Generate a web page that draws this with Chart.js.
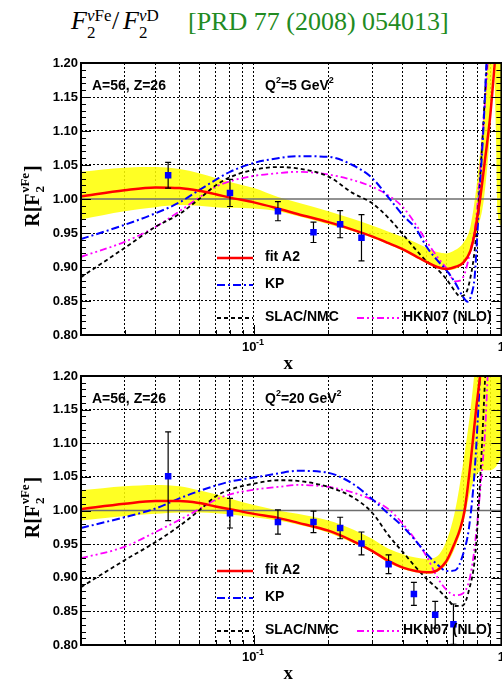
<!DOCTYPE html>
<html>
<head>
<meta charset="utf-8">
<script src="https://cdn.jsdelivr.net/npm/chart.js@4.4.1/dist/chart.umd.min.js"></script>
<style>
html,body{margin:0;padding:0;background:#fff;width:502px;height:681px;overflow:hidden;position:relative}
canvas{position:absolute;left:0}
#c1{top:40px}
#c2{top:353px}
.t{position:absolute;white-space:nowrap;font-family:'Liberation Serif','DejaVu Serif',serif;line-height:1;color:#000}
.big{font-size:26px}
.sm{font-size:17px}
.i{font-style:italic}
.ref{color:#228b22;font-size:26px}
</style>
</head>
<body>
<span class="t big i" style="left:71px;top:8px">F</span>
<span class="t sm" style="left:87px;top:7px"><i>ν</i>Fe</span>
<span class="t sm" style="left:87px;top:24px">2</span>
<span class="t big" style="left:112px;top:8px">/</span>
<span class="t big i" style="left:123px;top:8px">F</span>
<span class="t sm" style="left:139px;top:7px"><i>ν</i>D</span>
<span class="t sm" style="left:139px;top:24px">2</span>
<span class="t ref" style="left:188px;top:9px">[PRD 77 (2008) 054013]</span>
<canvas id="c1" width="506" height="340"></canvas>
<canvas id="c2" width="506" height="337"></canvas>
<script>
// ===== axes =====
const XGRID=[0.02,0.03,0.04,0.05,0.06,0.07,0.08,0.09,0.1,0.2,0.3,0.4,0.5,0.6,0.7,0.8,0.9,1];
const XMAJOR=[0.1,1];

// ===== Q2 = 5 GeV2 (top) =====
const DX5=[0.045,0.080,0.125,0.174,0.223,0.272];
const DY5=[1.035,1.009,0.982,0.951,0.963,0.943];
const DE5=[0.019,0.020,0.014,0.015,0.020,0.034];
const FITX5=[0.02,0.03,0.04,0.05,0.06,0.07,0.08,0.1,0.125,0.15,0.2,0.25,0.3,0.35,0.4,0.45,0.5,0.55,0.6,0.65,0.7,0.75,0.78,0.8,0.82,0.86,0.9,0.94,0.98];
const FITY5=[1.004,1.013,1.017,1.016,1.012,1.007,1.002,0.995,0.986,0.978,0.966,0.955,0.945,0.935,0.926,0.916,0.907,0.900,0.897,0.900,0.906,0.924,0.950,0.975,1.0,1.06,1.12,1.2,1.28];
const BANDX5=[0.02,0.03,0.04,0.05,0.06,0.07,0.08,0.1,0.125,0.15,0.2,0.25,0.3,0.35,0.4,0.45,0.5,0.55,0.6,0.65,0.7,0.75,0.8,0.85,0.9,0.93,0.95,0.965,1.0];
const BANDHI5=[1.040,1.046,1.047,1.044,1.038,1.031,1.025,1.016,1.003,0.995,0.982,0.971,0.961,0.952,0.944,0.936,0.928,0.922,0.920,0.925,0.935,0.960,1.03,1.13,1.25,1.32,1.36,1.40,1.45];
const BANDLO5=[0.970,0.982,0.988,0.991,0.990,0.988,0.987,0.986,0.982,0.975,0.963,0.953,0.943,0.933,0.924,0.914,0.905,0.898,0.895,0.897,0.904,0.920,0.955,1.0,1.1,1.2,1.1,0.98,0.96];
const KPX5=[0.02,0.03,0.04,0.05,0.06,0.07,0.08,0.1,0.125,0.15,0.2,0.25,0.3,0.35,0.4,0.45,0.5,0.55,0.6,0.65,0.7,0.73,0.76,0.78,0.8,0.82,0.845,0.87,0.9];
const KPY5=[0.941,0.962,0.979,0.995,1.013,1.028,1.040,1.053,1.060,1.063,1.062,1.050,1.031,1.002,0.976,0.957,0.929,0.910,0.895,0.877,0.856,0.849,0.862,0.886,0.950,1.02,1.10,1.20,1.32];
const SLACX5=[0.02,0.03,0.04,0.05,0.06,0.07,0.08,0.1,0.125,0.15,0.2,0.25,0.3,0.35,0.4,0.45,0.5,0.55,0.6,0.65,0.68,0.72,0.75,0.78,0.8,0.83,0.86,0.89];
const SLACY5=[0.885,0.928,0.959,0.978,1.0,1.020,1.032,1.043,1.047,1.045,1.033,1.009,0.994,0.972,0.948,0.926,0.908,0.897,0.882,0.864,0.857,0.862,0.885,0.925,0.970,1.06,1.16,1.25];
const HKNX5=[0.02,0.03,0.04,0.05,0.06,0.07,0.08,0.1,0.125,0.15,0.2,0.25,0.3,0.35,0.4,0.45,0.5,0.55,0.6,0.65,0.68,0.71,0.75,0.79,0.82,0.85,0.88,0.91];
const HKNY5=[0.915,0.937,0.959,0.982,1.002,1.018,1.026,1.034,1.038,1.040,1.036,1.028,1.018,1.005,0.988,0.963,0.937,0.915,0.898,0.879,0.880,0.890,0.925,0.970,1.04,1.12,1.20,1.30];

// ===== Q2 = 20 GeV2 (bottom) =====
const DX20=[0.045,0.080,0.125,0.174,0.223,0.272,0.35,0.443,0.54,0.64];
const DY20=[1.051,0.996,0.983,0.983,0.974,0.951,0.920,0.876,0.845,0.831];
const DE20=[0.066,0.022,0.018,0.016,0.016,0.017,0.014,0.017,0.020,0.030];
const FITX20=[0.02,0.03,0.04,0.05,0.06,0.07,0.08,0.1,0.125,0.15,0.2,0.25,0.3,0.35,0.4,0.45,0.5,0.55,0.6,0.65,0.68,0.71,0.75,0.79,0.82,0.86];
const FITY20=[1.002,1.010,1.014,1.014,1.011,1.006,1.002,0.995,0.989,0.982,0.970,0.955,0.940,0.925,0.915,0.910,0.908,0.911,0.925,0.953,0.972,1.0,1.07,1.15,1.2,1.28];
const BANDX20=[0.02,0.03,0.04,0.05,0.06,0.07,0.08,0.1,0.125,0.15,0.2,0.25,0.3,0.35,0.4,0.45,0.5,0.55,0.6,0.65,0.7,0.75,0.8,0.85,0.9,0.95,1.0];
const BANDHI20=[1.030,1.036,1.038,1.036,1.030,1.024,1.018,1.008,1.000,0.995,0.985,0.972,0.958,0.943,0.935,0.930,0.928,0.932,0.955,1.0,1.07,1.15,1.25,1.35,1.45,1.55,1.65];
const BANDLO20=[0.985,0.992,0.995,0.997,0.997,0.996,0.994,0.990,0.985,0.979,0.967,0.952,0.938,0.922,0.913,0.908,0.906,0.909,0.920,0.945,0.980,1.03,1.055,1.06,1.06,1.065,1.08];
const KPX20=[0.02,0.03,0.04,0.05,0.06,0.07,0.08,0.1,0.125,0.15,0.2,0.25,0.3,0.35,0.4,0.45,0.5,0.55,0.6,0.65,0.7,0.74,0.78,0.82,0.86];
const KPY20=[0.974,0.990,1.003,1.018,1.029,1.037,1.043,1.049,1.055,1.059,1.056,1.040,1.017,0.995,0.976,0.955,0.935,0.920,0.910,0.911,0.935,0.975,1.06,1.2,1.35];
const SLACX20=[0.02,0.03,0.04,0.05,0.06,0.07,0.08,0.1,0.125,0.15,0.2,0.25,0.3,0.35,0.4,0.45,0.5,0.55,0.6,0.65,0.7,0.74,0.78,0.8,0.83,0.86];
const SLACY20=[0.886,0.926,0.953,0.977,1.0,1.021,1.031,1.040,1.045,1.044,1.035,1.020,0.997,0.963,0.938,0.916,0.898,0.884,0.870,0.858,0.859,0.882,0.926,0.976,1.08,1.2];
const HKNX20=[0.02,0.03,0.04,0.05,0.06,0.07,0.08,0.1,0.125,0.15,0.2,0.25,0.3,0.35,0.4,0.45,0.5,0.55,0.6,0.65,0.7,0.74,0.77,0.8,0.83,0.86,0.88,0.91];
const HKNY20=[0.929,0.946,0.968,0.986,1.002,1.016,1.024,1.031,1.035,1.038,1.035,1.027,1.016,1.002,0.980,0.956,0.931,0.901,0.882,0.874,0.877,0.895,0.930,0.985,1.05,1.12,1.20,1.30];

const ONE_X=[0.02,1], ONE_Y=[1,1];

const SANS="'Liberation Sans', Arial, Helvetica, sans-serif";
const SERIF="'Liberation Serif', 'DejaVu Serif', serif";
Chart.defaults.font.family=SANS;

const pts=(xs,ys)=>xs.map((x,i)=>({x,y:ys[i]}));
function curve(xs,ys,color,dash,w){
  return {data:pts(xs,ys),borderColor:color,borderDash:dash,borderWidth:w,pointRadius:0,fill:false,cubicInterpolationMode:'monotone'};
}

// ===== legend rows (offsets from chart area) =====
const LEG=[
  {t:'fit A2',c:'#ff0000',d:[],w:2.5,x1:136,x2:172,tx:184,dy:195},
  {t:'KP',c:'#0000ff',d:[8,3,2,3],w:2,x1:136,x2:172,tx:184,dy:222},
  {t:'SLAC/NMC',c:'#000',d:[4,3],w:1.8,x1:136,x2:172,tx:184,dy:255},
  {t:'HKN07 (NLO)',c:'#ff00ff',d:[7,3,2,3,2,3],w:1.8,x1:276,x2:318,tx:322,dy:255}
];

const panel={
  id:'panel',
  beforeDatasetDraw(chart,args,o){
    if(args.index!==0) return;
    const {ctx,chartArea:a}=chart, xs=chart.scales.x, ys=chart.scales.y;
    ctx.save(); ctx.beginPath(); ctx.rect(a.left,a.top,a.right-a.left,a.bottom-a.top); ctx.clip();
    ctx.strokeStyle='#000'; ctx.lineWidth=1.2; ctx.setLineDash([]);
    chart.data.datasets[0].data.forEach((p,i)=>{
      const e=o.err[i], px=xs.getPixelForValue(p.x);
      const y1=ys.getPixelForValue(p.y+e), y2=ys.getPixelForValue(p.y-e);
      ctx.beginPath(); ctx.moveTo(px,y1); ctx.lineTo(px,y2);
      ctx.moveTo(px-3,y1); ctx.lineTo(px+3,y1); ctx.moveTo(px-3,y2); ctx.lineTo(px+3,y2); ctx.stroke();
    });
    ctx.restore();
  },
  afterDraw(chart,args,o){
    const {ctx,chartArea:a}=chart, xs=chart.scales.x, ys=chart.scales.y;
    ctx.save(); ctx.setLineDash([]); ctx.strokeStyle='#000'; ctx.fillStyle='#000';
    // frame
    ctx.lineWidth=2; ctx.strokeRect(a.left,a.top,a.right-a.left,a.bottom-a.top);
    // minor ticks
    ctx.lineWidth=1; ctx.beginPath();
    for(let k=80;k<=120;k++){
      const y=Math.round(ys.getPixelForValue(k/100))+0.5, len=k%5===0?10:5;
      ctx.moveTo(a.left,y); ctx.lineTo(a.left+len,y); ctx.moveTo(a.right,y); ctx.lineTo(a.right-len,y);
    }
    XGRID.forEach(v=>{const x=Math.round(xs.getPixelForValue(v))+0.5, len=XMAJOR.includes(v)?10:5;
      ctx.moveTo(x,a.bottom); ctx.lineTo(x,a.bottom-len);});
    ctx.stroke();
    // x tick labels
    ctx.textBaseline='alphabetic'; ctx.textAlign='left';
    const x01=xs.getPixelForValue(0.1);
    ctx.font='bold 13px '+SANS; ctx.fillText('10',x01-12,a.bottom+16);
    ctx.font='bold 9px '+SANS; ctx.fillText('-1',x01+2,a.bottom+10);
    ctx.font='bold 13px '+SANS; ctx.textAlign='center'; ctx.fillText('1',xs.getPixelForValue(1),a.bottom+16);
    // x title
    ctx.font='bold 19px '+SERIF; ctx.fillText('x',(a.left+a.right)/2-3,a.bottom+34);
    // y title
    ctx.textAlign='left';
    const big='bold 20px '+SERIF, sm='bold 13px '+SERIF;
    ctx.font=big; const w1=ctx.measureText('R[F').width, wb=ctx.measureText(']').width;
    ctx.font=sm; const w2=ctx.measureText('νFe').width;
    const tot=w1+w2+wb+2, cy=(a.top+a.bottom)/2-3;
    ctx.translate(39,cy+tot/2); ctx.rotate(-Math.PI/2);
    ctx.font=big; ctx.fillText('R[F',0,0);
    ctx.font=sm; ctx.fillText('2',w1+1,5); ctx.fillText('νFe',w1+1,-10);
    ctx.font=big; ctx.fillText(']',w1+w2+2,0);
    ctx.setTransform(1,0,0,1,0,0);
    // panel text
    const B14='bold 14px '+SANS, B9='bold 9px '+SANS;
    const by=a.top+27;
    ctx.font=B14; ctx.fillText('A=56, Z=26',a.left+11,by);
    let x=a.left+184;
    ctx.fillText('Q',x,by); x+=ctx.measureText('Q').width;
    ctx.font=B9; ctx.fillText('2',x,by-7); x+=ctx.measureText('2').width;
    ctx.font=B14; const qt='='+o.q+' GeV'; ctx.fillText(qt,x,by); x+=ctx.measureText(qt).width;
    ctx.font=B9; ctx.fillText('2',x,by-7);
    // legend
    LEG.forEach(r=>{
      const y=a.top+r.dy;
      ctx.strokeStyle=r.c; ctx.lineWidth=r.w; ctx.setLineDash(r.d);
      ctx.beginPath(); ctx.moveTo(a.left+r.x1,y); ctx.lineTo(a.left+r.x2,y); ctx.stroke();
      ctx.setLineDash([]); ctx.font=B14; ctx.fillStyle='#000'; ctx.textBaseline='middle';
      ctx.fillText(r.t,a.left+r.tx,y-1);
      ctx.textBaseline='alphabetic';
    });
    ctx.restore();
  }
};

function build(id,P){
  const ds=[
    {data:pts(P.dx,P.dy),showLine:false,pointStyle:'rect',pointRadius:4.6,backgroundColor:'#0000ff',borderColor:'#0000ff',borderWidth:0},
    curve(P.fit[0],P.fit[1],'#ff0000',[],2.5),
    curve(P.kp[0],P.kp[1],'#0000ff',[8,3,2,3],2),
    curve(P.slac[0],P.slac[1],'#000000',[4,3],1.8),
    curve(P.hkn[0],P.hkn[1],'#ff00ff',[7,3,2,3,2,3],1.8),
    {data:pts(ONE_X,ONE_Y),borderColor:'#6e6e6e',borderWidth:1.6,pointRadius:0,fill:false},
    {data:pts(P.bx,P.hi),fill:'+1',backgroundColor:'rgba(255,255,0,0.86)',borderColor:'transparent',borderWidth:0,pointRadius:0,cubicInterpolationMode:'monotone'},
    {data:pts(P.bx,P.lo),fill:false,borderColor:'transparent',borderWidth:0,pointRadius:0,cubicInterpolationMode:'monotone'}
  ];
  const edge=v=>Math.abs(v-1)<1e-6||Math.abs(v-0.8)<1e-6||Math.abs(v-1.2)<1e-6;
  new Chart(document.getElementById(id),{
    type:'line',
    data:{datasets:ds},
    plugins:[panel],
    options:{
      responsive:false,animation:false,devicePixelRatio:1,
      layout:{padding:{top:23,right:2.5,left:0,bottom:0}},
      plugins:{legend:{display:false},tooltip:{enabled:false},panel:{err:P.de,q:P.q}},
      scales:{
        x:{type:'logarithmic',min:0.02,max:1,
          afterBuildTicks:s=>{s.ticks=XGRID.map(v=>({value:v}));},
          afterFit:s=>{s.height=45;},
          ticks:{display:false},
          grid:{drawTicks:false,color:c=>(c.tick&&(c.tick.value===0.02||c.tick.value===1))?'transparent':'#000',lineWidth:1},
          border:{display:false,dash:[2,2]}},
        y:{min:0.8,max:1.2,
          afterFit:s=>{s.width=81;},
          ticks:{stepSize:0.05,padding:3,color:'#000',font:{size:13,weight:'bold'},callback:v=>Number(v).toFixed(2)},
          grid:{drawTicks:false,color:c=>(c.tick&&edge(c.tick.value))?'transparent':'#000',lineWidth:1},
          border:{display:false,dash:[2,2]}}
      }
    }
  });
}

build('c1',{dx:DX5,dy:DY5,de:DE5,q:'5',fit:[FITX5,FITY5],kp:[KPX5,KPY5],slac:[SLACX5,SLACY5],hkn:[HKNX5,HKNY5],bx:BANDX5,hi:BANDHI5,lo:BANDLO5});
build('c2',{dx:DX20,dy:DY20,de:DE20,q:'20',fit:[FITX20,FITY20],kp:[KPX20,KPY20],slac:[SLACX20,SLACY20],hkn:[HKNX20,HKNY20],bx:BANDX20,hi:BANDHI20,lo:BANDLO20});
</script>
</body>
</html>
